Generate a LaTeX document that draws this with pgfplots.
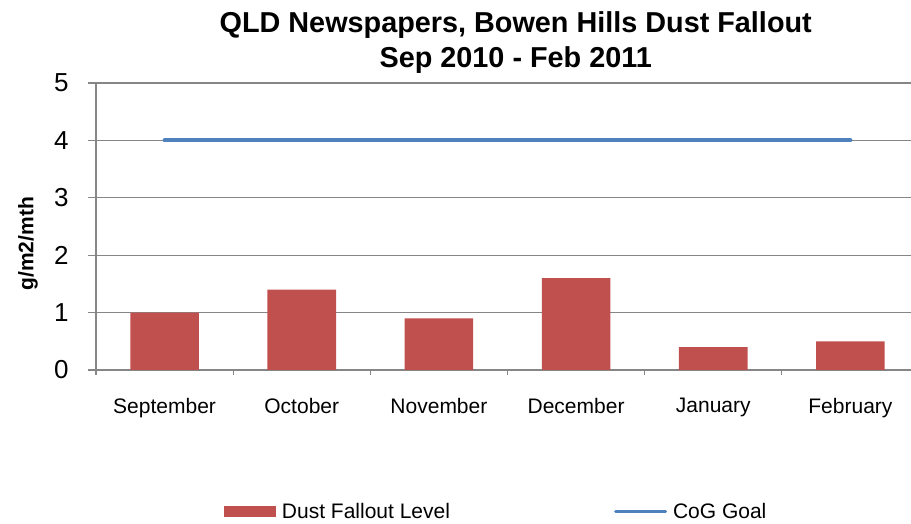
\documentclass[border=0pt]{standalone}
\usepackage{fontspec}
\setmainfont{Liberation Sans}
\usepackage{pgfplots}
\pgfplotsset{compat=1.18}
\definecolor{barred}{RGB}{192,80,77}
\definecolor{goalblue}{RGB}{79,129,189}
\definecolor{gridgray}{RGB}{134,134,134}

\begin{document}
\begin{tikzpicture}
\begin{axis}[
    scale only axis,
    width=411.5pt, height=143.5pt,
    xmin=-0.5, xmax=5.5, ymin=0, ymax=5,
    axis x line*=bottom, axis y line*=left,
    axis line style={gridgray, line width=0.6pt, -},
    xtick={0,...,5},
    xticklabels={September,October,November,December,January,February},
    minor xtick={-0.5,0.5,...,5.5},
    major x tick style={draw=none},
    ytick={0,...,5},
    tick align=outside,
    major tick length=4pt, minor tick length=2.5pt,
    tick style={gridgray, line width=0.6pt},
    ymajorgrids, grid style={gridgray, line width=0.6pt},
    /pgf/number format/assume math mode=true,
    yticklabel style={font=\fontsize{13}{15}\selectfont, inner sep=0pt, xshift=-9.5pt},
    xticklabel style={font=\fontsize{10.5}{12}\selectfont, inner sep=0pt, yshift=-10pt},
    ylabel={g/m2/mth},
    ylabel style={at={(axis description cs:-0.0826,0.44)}, anchor=center, font=\bfseries\fontsize{10.5}{12}\selectfont},
    title={QLD Newspapers, Bowen Hills Dust Fallout\\Sep 2010 - Feb 2011},
    title style={at={(axis description cs:0.51,1)}, anchor=south, align=center, inner sep=0pt, yshift=-1.5pt, font=\bfseries\fontsize{14.4}{17.5}\selectfont},
    legend columns=2,
    legend cell align=left,
    legend style={at={(axis description cs:0.485,-0.4948)}, anchor=center, draw=none, fill=none,
        font=\fontsize{10.5}{12}\selectfont, nodes={inner sep=0pt},
        /tikz/every even column/.append style={column sep=82pt},
        /tikz/every odd column/.append style={column sep=3pt}},
]
\addplot[ybar, bar width=0.5, fill=barred, draw=none,
    legend image code/.code={\fill[barred] (0pt,-2.75pt) rectangle (26pt,2.75pt);}]
    coordinates {(0,1.0) (1,1.4) (2,0.9) (3,1.6) (4,0.4) (5,0.5)};
\addlegendentry{Dust Fallout Level}
\addplot[goalblue, line width=2pt, line cap=round,
    legend image code/.code={\draw[goalblue, line width=1.5pt] (0pt,0pt) -- (25pt,0pt);}]
    coordinates {(0,4) (1,4) (2,4) (3,4) (4,4) (5,4)};
\addlegendentry{CoG Goal}
\end{axis}
\pgfresetboundingbox
\path[use as bounding box] ([xshift=-48pt,yshift=-77pt]current axis.south west) rectangle ([xshift=-4pt,yshift=41.5pt]current axis.north east);
\end{tikzpicture}
\end{document}
